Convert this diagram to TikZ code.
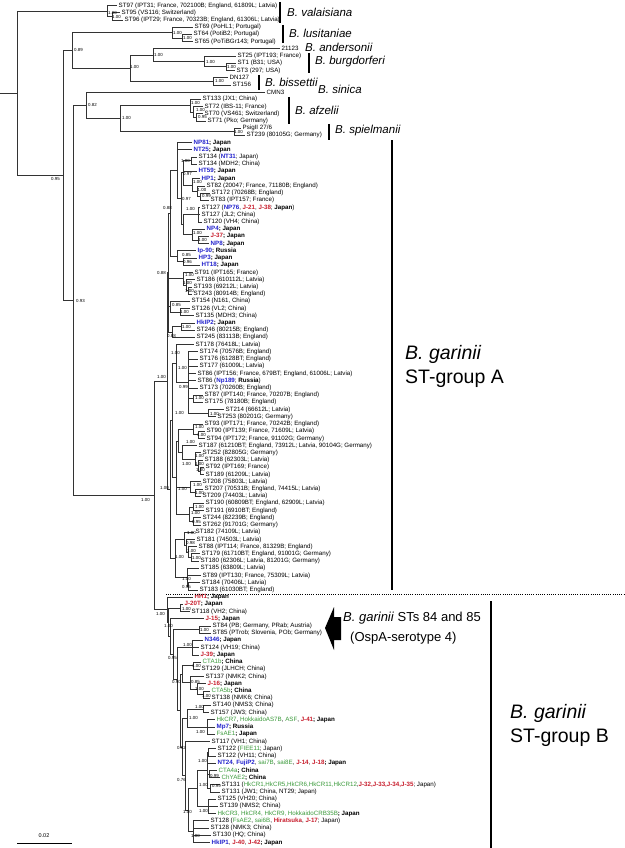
\documentclass[tikz,border=0pt]{standalone}
\usepackage{fontspec}
\setmainfont{Liberation Sans}
\definecolor{cblue}{RGB}{35,35,205}
\definecolor{cred}{RGB}{200,30,45}
\definecolor{cgreen}{RGB}{60,155,60}
\newcommand\bl[1]{\textcolor{cblue}{\textbf{#1}}}
\newcommand\rd[1]{\textcolor{cred}{\textbf{#1}}}
\newcommand\gr[1]{\textcolor{cgreen}{\textmd{#1}}}
\newcommand\lf[3]{\pgfmathsetmacro\myyv{5.5+7.215*#1}\node[leaf] (L#1) at (#2,\myyv) {#3};}
\newcommand\nd[3]{\pgfmathsetmacro\myyv{5.5+7.215*#3}\coordinate (#1) at (#2,\myyv);}
\newcommand\eg[2]{\draw[br] (#1) |- (#2);}
\newcommand\sv[4]{\pgfmathsetmacro\myyv{5.5+7.215*#3}\node[sup] (#1) at (#2,\myyv) {#4};}
\begin{document}
\begin{tikzpicture}[x=1pt,y=-1pt,
  leaf/.style={anchor=west,inner xsep=1.5pt,inner ysep=0pt,font=\fontsize{6.2}{7}\selectfont},
  sup/.style={anchor=west,inner sep=0pt,font=\fontsize{4.4}{4.8}\selectfont},
  br/.style={draw=black!80,line width=0.7pt},
  bar/.style={draw=black,line width=1.1pt},
  spn/.style={anchor=west,inner sep=0pt,font=\fontsize{11.5}{13}\selectfont\itshape},
  grp/.style={anchor=west,inner sep=0pt,font=\fontsize{19.5}{23}\selectfont},
  ann/.style={anchor=west,inner sep=0pt,font=\fontsize{13}{15}\selectfont}]
\useasboundingbox (0,0) rectangle (624,848);
\fill[white] (0,0) rectangle (624,848);
% ---------------- leaves: outgroups
\lf{0}{117}{ST97 (IPT31; France, 702100B; England, 61809L; Latvia)}
\lf{1}{120}{ST95 (VS116; Switzerland)}
\lf{2}{123}{ST96 (IPT29; France, 70323B; England, 61306L; Latvia)}
\lf{3}{193}{ST69 (PoHL1; Portugal)}
\lf{4}{192}{ST64 (PotiB2; Portugal)}
\lf{5}{193}{ST65 (PoTiBGr143; Portugal)}
\lf{6}{280}{21123}
\lf{7}{236}{ST25 (IPT193; France)}
\lf{8}{236}{ST1 (B31; USA)}
\lf{9}{235}{ST3 (297; USA)}
\lf{10}{228}{DN127}
\lf{11}{231}{ST156}
\lf{12}{265}{CMN3}
\lf{13}{201}{ST133 (JX1; China)}
\lf{14}{203}{ST72 (IBS-11; France)}
\lf{15}{203}{ST70 (VS461; Switzerland)}
\lf{16}{206}{ST71 (Pko; Germany)}
\lf{17}{241}{PsigII 27/6}
\lf{18}{245}{ST239 (80105G; Germany)}
% ---------------- leaves: group A
\lf{19}{192}{\bl{NP81}\textbf{; Japan}}
\lf{20}{192}{\bl{NT25}\textbf{; Japan}}
\lf{21}{197}{ST134 (\bl{NT31}; Japan)}
\lf{22}{197}{ST134 (MDH2; China)}
\lf{23}{197}{\bl{HT59}\textbf{; Japan}}
\lf{24}{200}{\bl{HP1}\textbf{; Japan}}
\lf{25}{205}{ST82 (20047; France, 71180B; England)}
\lf{26}{210}{ST172 (70268B; England)}
\lf{27}{209}{ST83 (IPT157; France)}
\lf{28}{200}{ST127 (\bl{NP76}, \rd{J-21}, \rd{J-38}; \textbf{Japan})}
\lf{29}{200}{ST127 (JL2; China)}
\lf{30}{202}{ST120 (VH4; China)}
\lf{31}{205}{\bl{NP4}\textbf{; Japan}}
\lf{32}{209}{\rd{J-37}\textbf{; Japan}}
\lf{33}{209}{\bl{NP8}\textbf{; Japan}}
\lf{34}{196}{\bl{Ip-90}\textbf{; Russia}}
\lf{35}{197}{\bl{HP3}\textbf{; Japan}}
\lf{36}{200}{\bl{HT18}\textbf{; Japan}}
\lf{37}{193}{ST91 (IPT165; France)}
\lf{38}{195}{ST186 (610112L; Latvia)}
\lf{39}{192}{ST193 (69212L; Latvia)}
\lf{40}{192}{ST243 (80914B; England)}
\lf{41}{190}{ST154 (N161, China)}
\lf{42}{190}{ST126 (VL2; China)}
\lf{43}{194}{ST135 (MDH3; China)}
\lf{44}{195}{\bl{HkIP2}\textbf{; Japan}}
\lf{45}{195}{ST246 (80215B; England)}
\lf{46}{195}{ST245 (83113B; England)}
\lf{47}{194}{ST178 (76418L; Latvia)}
\lf{48}{198}{ST174 (70576B; England)}
\lf{49}{198}{ST176 (6128BT; England)}
\lf{50}{198}{ST177 (61009L; Latvia)}
\lf{51}{196}{ST86 (IPT156; France, 679BT; England, 61006L; Latvia)}
\lf{52}{196}{ST86 (\bl{Np189}; \textbf{Russia})}
\lf{53}{198}{ST173 (70260B; England)}
\lf{54}{203}{ST87 (IPT140; France, 70207B; England)}
\lf{55}{203}{ST175 (78180B; England)}
\lf{56}{224}{ST214 (66612L; Latvia)}
\lf{57}{216}{ST253 (80201G; Germany)}
\lf{58}{203}{ST93 (IPT171; France, 70242B; England)}
\lf{59}{205}{ST90 (IPT139; France, 71609L; Latvia)}
\lf{60}{205}{ST94 (IPT172; France, 91102G; Germany)}
\lf{61}{197}{ST187 (61210BT; England, 73912L; Latvia, 90104G; Germany)}
\lf{62}{201}{ST252 (82805G; Germany)}
\lf{63}{203}{ST188 (62303L; Latvia)}
\lf{64}{204}{ST92 (IPT169; France)}
\lf{65}{204}{ST189 (61209L; Latvia)}
\lf{66}{201}{ST208 (75803L; Latvia)}
\lf{67}{203}{ST207 (70531B; England, 74415L; Latvia)}
\lf{68}{201}{ST209 (74403L; Latvia)}
\lf{69}{204}{ST190 (60809BT; England, 62909L; Latvia)}
\lf{70}{204}{ST191 (6910BT; England)}
\lf{71}{201}{ST244 (82239B; England)}
\lf{72}{201}{ST262 (91701G; Germany)}
\lf{73}{194}{ST182 (74109L; Latvia)}
\lf{74}{195}{ST181 (74503L; Latvia)}
\lf{75}{197}{ST88 (IPT114; France, 81329B; England)}
\lf{76}{200}{ST179 (61710BT; England, 91001G; Germany)}
\lf{77}{199}{ST180 (62306L; Latvia, 81201G; Germany)}
\lf{78}{199}{ST185 (63809L; Latvia)}
\lf{79}{201}{ST89 (IPT130; France, 75309L; Latvia)}
\lf{80}{200}{ST184 (70406L; Latvia)}
\lf{81}{198}{ST183 (61030BT; England)}
% ---------------- leaves: group B
\lf{82}{193}{\rd{HH1}\textbf{; Japan}}
\lf{83}{183}{\rd{J-20T}\textbf{; Japan}}
\lf{84}{190}{ST118 (VH2; China)}
\lf{85}{204}{\rd{J-15}\textbf{; Japan}}
\lf{86}{211}{ST84 (PB; Germany, PRab; Austria)}
\lf{87}{211}{ST85 (PTrob; Slovenia, POb; Germany)}
\lf{88}{203}{\bl{N346}\textbf{; Japan}}
\lf{89}{199}{ST124 (VH19; China)}
\lf{90}{199}{\rd{J-39}\textbf{; Japan}}
\lf{91}{201}{\gr{CTA1b}\textbf{; China}}
\lf{92}{200}{ST129 (JLHCH; China)}
\lf{93}{204}{ST137 (NMK2; China)}
\lf{94}{206}{\rd{J-16}\textbf{; Japan}}
\lf{95}{210}{\gr{CTA5b}\textbf{; China}}
\lf{96}{210}{ST138 (NMK6; China)}
\lf{97}{211}{ST140 (NMS3; China)}
\lf{98}{209}{ST157 (JW3; China)}
\lf{99}{215}{\gr{HkCR7}, \gr{HokkaidoAS7B}, \gr{ASF}, \rd{J-41}\textbf{; Japan}}
\lf{100}{215}{\bl{Mp7}\textbf{; Russia}}
\lf{101}{215}{\gr{FsAE1}\textbf{; Japan}}
\lf{102}{210}{ST117 (VH1; China)}
\lf{103}{216}{ST122 (\gr{FIEE11}; Japan)}
\lf{104}{216}{ST122 (VH11; China)}
\lf{105}{216}{\bl{NT24}, \bl{FujiP2}, \gr{sai7B}, \gr{sai8E}, \rd{J-14}, \rd{J-18}\textbf{; Japan}}
\lf{106}{217}{\gr{CTA4a}\textbf{; China}}
\lf{107}{220}{\gr{ChYAE2}\textbf{; China}}
\lf{108}{220}{ST131 (\gr{HkCR1,HkCR5,HkCR6,HkCR11,HkCR12},\rd{J-32,J-33,J-34,J-35}; Japan)}
\lf{109}{220}{ST131 (JW1; China, NT29; Japan)}
\lf{110}{216}{ST125 (VH20; China)}
\lf{111}{218}{ST139 (NMS2; China)}
\lf{112}{216}{\gr{HkCR3, HkCR4, HkCR9, HokkaidoCRB35B}\textbf{; Japan}}
\lf{113}{209}{ST128 (\gr{FsAE2}, \gr{sai6B}, \rd{Hiratsuka}, \rd{J-17}; Japan)}
\lf{114}{209}{ST128 (NMK3; China)}
\lf{115}{211}{ST130 (HQ; China)}
\lf{116}{210}{\bl{HkIP1}, \rd{J-40}, \rd{J-42}\textbf{; Japan}}
% ---------------- internal nodes: top
\nd{R0}{0}{12.147}
\nd{R}{17}{12.147}
\nd{V0}{107}{0.75}
\nd{V1}{112}{1.5}
\nd{N95}{63}{23.544}
\nd{N89}{72}{6.219}
\nd{Lu0}{172}{3.75}
\nd{Lu1}{182}{4.5}
\nd{NA}{130}{8.6875}
\nd{And0}{153}{6.875}
\nd{Bu0}{204}{7.75}
\nd{Bu1}{226}{8.5}
\nd{Bis0}{213}{10.5}
\nd{N93}{73}{40.869}
\nd{N82}{86}{13.844}
\nd{Af0}{120}{15.6875}
\nd{Af1}{190}{13.875}
\nd{Af2}{193}{14.75}
\nd{Af3}{196}{15.5}
\nd{Sp0}{234}{17.5}
\nd{G0}{154}{67.894}
% group A
\nd{GA}{167}{52.047}
\nd{Atop}{168}{37.035}
\nd{At1}{170}{28.820}
\nd{P1}{177}{22.891}
\nd{Q6}{181}{26.781}
\nd{Q2}{183}{23.1875}
\nd{Q1}{191}{21.5}
\nd{Q3}{192}{24.875}
\nd{Q4}{197}{25.75}
\nd{Q5}{200}{26.5}
\nd{Q8}{183}{30.375}
\nd{Q7}{198}{29}
\nd{Q9}{192}{31.75}
\nd{Q10}{198}{32.5}
\nd{Q11}{177}{34.75}
\nd{Q12}{183}{35.5}
\nd{R1}{183}{37.875}
\nd{R2}{186}{38.75}
\nd{R3}{188}{39.5}
\nd{R4}{170}{41.75}
\nd{R5}{180}{42.5}
\nd{H0}{172}{45.25}
\nd{H1}{181}{44.5}
\nd{Abot}{170}{67.059}
\nd{X1}{172}{57.523}
\nd{H2}{176}{49.625}
\nd{H3}{188}{52.25}
\nd{H4}{193}{54.5}
\nd{H5}{208}{56.5}
\nd{B10}{176}{65.422}
\nd{B2}{178}{60.344}
\nd{B1a}{193}{58.75}
\nd{B1b}{198}{59.5}
\nd{B7}{182}{61.9375}
\nd{B4}{195}{62.875}
\nd{B5}{198}{63.75}
\nd{B6}{200}{64.5}
\nd{B8}{190}{66.75}
\nd{B9}{195}{67.5}
\nd{B11}{189}{70.5}
\nd{B12}{193}{69.5}
\nd{B13}{193}{71.5}
\nd{X2}{175}{76.594}
\nd{C1}{184}{73.9375}
\nd{C2}{186}{74.875}
\nd{C3}{188}{75.75}
\nd{C4}{191}{76.5}
\nd{C5}{187}{79.25}
\nd{C6}{188}{80.5}
% group B
\nd{GB}{167}{83.741}
\nd{GB0}{168}{85.483}
\nd{K1}{180}{83.5}
\nd{GB1}{170}{87.465}
\nd{GB2}{173}{89.930}
\nd{K2}{199}{86.5}
\nd{GB3}{177}{93.359}
\nd{K3}{192}{89}
\nd{GB4}{180}{97.719}
\nd{K11}{182}{92.6875}
\nd{K4}{193}{91.5}
\nd{K10}{190}{93.875}
\nd{K9}{197}{94.75}
\nd{K8}{203}{95.5}
\nd{M12}{182}{102.75}
\nd{K6}{187}{98.75}
\nd{K5}{203}{97.5}
\nd{K7}{207}{100}
\nd{M11}{185}{106.75}
\nd{M10}{188}{111.5}
\nd{M9}{197}{108.5}
\nd{M8}{207}{106}
\nd{M3}{208}{103.5}
\nd{M4}{209}{106.5}
\nd{M5}{210}{108.5}
\nd{M7}{208}{111}
\nd{M1}{193}{114.5}
% ---------------- branches: top
\draw[br] (R0) -- (R);
\eg{R}{V0} \eg{R}{N95}
\eg{V0}{L0.west} \eg{V0}{V1} \eg{V1}{L1.west} \eg{V1}{L2.west}
\eg{N95}{N89} \eg{N95}{N93}
\eg{N89}{Lu0} \eg{N89}{NA}
\eg{Lu0}{L3.west} \eg{Lu0}{Lu1} \eg{Lu1}{L4.west} \eg{Lu1}{L5.west}
\eg{NA}{And0} \eg{NA}{Bis0}
\eg{And0}{L6.west} \eg{And0}{Bu0}
\eg{Bu0}{L7.west} \eg{Bu0}{Bu1} \eg{Bu1}{L8.west} \eg{Bu1}{L9.west}
\eg{Bis0}{L10.west} \eg{Bis0}{L11.west}
\eg{N93}{N82} \eg{N93}{G0}
\eg{N82}{L12.west} \eg{N82}{Af0}
\eg{Af0}{Af1} \eg{Af0}{Sp0}
\eg{Af1}{L13.west} \eg{Af1}{Af2} \eg{Af2}{L14.west} \eg{Af2}{Af3}
\eg{Af3}{L15.west} \eg{Af3}{L16.west}
\eg{Sp0}{L17.west} \eg{Sp0}{L18.west}
\eg{G0}{GA} \eg{G0}{GB}
% group A
\eg{GA}{Atop} \eg{GA}{Abot}
\eg{Atop}{At1} \eg{Atop}{R1} \eg{Atop}{R4} \eg{Atop}{H0}
\eg{At1}{P1} \eg{At1}{Q11}
\eg{P1}{L19.west} \eg{P1}{L20.west} \eg{P1}{Q6}
\eg{Q6}{Q2} \eg{Q6}{Q8}
\eg{Q2}{Q1} \eg{Q2}{L23.west} \eg{Q2}{Q3}
\eg{Q1}{L21.west} \eg{Q1}{L22.west}
\eg{Q3}{L24.west} \eg{Q3}{Q4}
\eg{Q4}{L25.west} \eg{Q4}{Q5}
\eg{Q5}{L26.west} \eg{Q5}{L27.west}
\eg{Q8}{Q7} \eg{Q8}{Q9}
\eg{Q7}{L28.west} \eg{Q7}{L29.west} \eg{Q7}{L30.west}
\eg{Q9}{L31.west} \eg{Q9}{Q10}
\eg{Q10}{L32.west} \eg{Q10}{L33.west}
\eg{Q11}{L34.west} \eg{Q11}{Q12}
\eg{Q12}{L35.west} \eg{Q12}{L36.west}
\eg{R1}{L37.west} \eg{R1}{R2}
\eg{R2}{L38.west} \eg{R2}{R3}
\eg{R3}{L39.west} \eg{R3}{L40.west}
\eg{R4}{L41.west} \eg{R4}{R5}
\eg{R5}{L42.west} \eg{R5}{L43.west}
\eg{H0}{H1} \eg{H0}{L46.west}
\eg{H1}{L44.west} \eg{H1}{L45.west}
\eg{Abot}{X1} \eg{Abot}{X2}
\eg{X1}{H2} \eg{X1}{B10}
\eg{H2}{L47.west} \eg{H2}{H3}
\eg{H3}{L48.west} \eg{H3}{L49.west} \eg{H3}{L50.west} \eg{H3}{L51.west}
\eg{H3}{L52.west} \eg{H3}{L53.west} \eg{H3}{H4} \eg{H3}{H5}
\eg{H4}{L54.west} \eg{H4}{L55.west}
\eg{H5}{L56.west} \eg{H5}{L57.west}
\eg{B10}{B2} \eg{B10}{B8} \eg{B10}{B11}
\eg{B2}{B1a} \eg{B2}{B7}
\eg{B1a}{L58.west} \eg{B1a}{B1b}
\eg{B1b}{L59.west} \eg{B1b}{L60.west}
\eg{B7}{L61.west} \eg{B7}{B4}
\eg{B4}{L62.west} \eg{B4}{B5}
\eg{B5}{L63.west} \eg{B5}{B6}
\eg{B6}{L64.west} \eg{B6}{L65.west}
\eg{B8}{L66.west} \eg{B8}{B9}
\eg{B9}{L67.west} \eg{B9}{L68.west}
\eg{B11}{B12} \eg{B11}{B13}
\eg{B12}{L69.west} \eg{B12}{L70.west}
\eg{B13}{L71.west} \eg{B13}{L72.west}
\eg{X2}{C1} \eg{X2}{C5}
\eg{C1}{L73.west} \eg{C1}{C2}
\eg{C2}{L74.west} \eg{C2}{C3}
\eg{C3}{L75.west} \eg{C3}{C4}
\eg{C4}{L76.west} \eg{C4}{L77.west}
\eg{C5}{L78.west} \eg{C5}{L79.west} \eg{C5}{C6}
\eg{C6}{L80.west} \eg{C6}{L81.west}
% group B
\eg{GB}{L82.west} \eg{GB}{GB0}
\eg{GB0}{K1} \eg{GB0}{GB1}
\eg{K1}{L83.west} \eg{K1}{L84.west}
\eg{GB1}{L85.west} \eg{GB1}{GB2}
\eg{GB2}{K2} \eg{GB2}{GB3}
\eg{K2}{L86.west} \eg{K2}{L87.west}
\eg{GB3}{K3} \eg{GB3}{GB4}
\eg{K3}{L88.west} \eg{K3}{L89.west} \eg{K3}{L90.west}
\eg{GB4}{K11} \eg{GB4}{M12}
\eg{K11}{K4} \eg{K11}{K10}
\eg{K4}{L91.west} \eg{K4}{L92.west}
\eg{K10}{L93.west} \eg{K10}{K9}
\eg{K9}{L94.west} \eg{K9}{K8}
\eg{K8}{L95.west} \eg{K8}{L96.west}
\eg{M12}{K6} \eg{M12}{M11}
\eg{K6}{K5} \eg{K6}{K7}
\eg{K5}{L97.west} \eg{K5}{L98.west}
\eg{K7}{L99.west} \eg{K7}{L100.west} \eg{K7}{L101.west}
\eg{M11}{L102.west} \eg{M11}{M10}
\eg{M10}{M9} \eg{M10}{M1}
\eg{M9}{M8} \eg{M9}{M7}
\eg{M8}{M3} \eg{M8}{L105.west} \eg{M8}{M4} \eg{M8}{M5}
\eg{M3}{L103.west} \eg{M3}{L104.west}
\eg{M4}{L106.west} \eg{M4}{L107.west}
\eg{M5}{L108.west} \eg{M5}{L109.west}
\eg{M7}{L110.west} \eg{M7}{L111.west} \eg{M7}{L112.west}
\eg{M1}{L113.west} \eg{M1}{L114.west} \eg{M1}{L115.west} \eg{M1}{L116.west}
% ---------------- support values
\sv{s1}{108}{1.04}{1.00}
\sv{s2}{112}{1.65}{1.00}
\sv{s3}{173}{3.8}{1.00}
\sv{s4}{183}{4.5}{1.00}
\sv{s5}{74}{6.2}{0.89}
\sv{s6}{154}{6.86}{1.00}
\sv{s7}{130}{8.55}{1.00}
\sv{s8}{206}{7.8}{1.00}
\sv{s9}{227}{8.55}{1.00}
\sv{s10}{215}{10.4}{1.00}
\sv{s11}{88}{13.8}{0.82}
\sv{s12}{122}{15.6}{1.00}
\sv{s13}{191}{13.5}{1.00}
\sv{s14}{196}{14.5}{1.00}
\sv{s15}{198}{15.45}{0.95}
\sv{s16}{234}{17.6}{1.00}
\sv{s17}{51}{24.05}{0.95}
\sv{s18}{76}{40.9}{0.93}
\sv{s19}{141}{68.6}{1.00}
\sv{s20}{157}{51.5}{1.00}
\sv{s21}{163}{28.1}{0.88}
\sv{s22}{157}{37.1}{0.88}
\sv{s23}{167}{45.8}{0.88}
\sv{s24}{181}{21.5}{1.00}
\sv{s25}{183}{23.35}{0.97}
\sv{s26}{193}{24.5}{1.00}
\sv{s27}{197.5}{25.6}{1.00}
\sv{s28}{202}{26.4}{0.99}
\sv{s29}{182}{26.8}{0.97}
\sv{s30}{186}{28.2}{1.00}
\sv{s31}{193}{31.5}{1.00}
\sv{s32}{198}{32.5}{1.00}
\sv{s33}{182}{34.6}{0.85}
\sv{s34}{183}{35.55}{0.96}
\sv{s35}{185}{37.35}{1.00}
\sv{s36}{183}{38.5}{1.00}
\sv{s37}{185}{39.6}{1.00}
\sv{s38}{172}{41.5}{0.85}
\sv{s39}{180}{42.5}{1.00}
\sv{s40}{182}{44.6}{1.00}
\sv{s41}{171}{48.2}{1.00}
\sv{s42}{178}{50.24}{1.00}
\sv{s43}{179}{52.9}{0.99}
\sv{s44}{195}{54.4}{1.00}
\sv{s45}{210}{56.6}{1.00}
\sv{s46}{175}{56.5}{1.00}
\sv{s47}{195}{58.4}{1.00}
\sv{s48}{197}{59.5}{1.00}
\sv{s49}{186}{60.5}{1.00}
\sv{s50}{195}{62.4}{1.00}
\sv{s51}{182}{63.55}{1.00}
\sv{s52}{195}{63.5}{1.00}
\sv{s53}{196}{64.4}{1.00}
\sv{s54}{160}{66.9}{1.00}
\sv{s55}{193}{66.5}{1.00}
\sv{s56}{178}{67.0}{1.00}
\sv{s57}{195}{67.6}{1.00}
\sv{s58}{195}{69.5}{1.00}
\sv{s59}{191}{70.35}{1.00}
\sv{s60}{192}{71.6}{0.95}
\sv{s61}{187}{73.1}{1.00}
\sv{s62}{186}{74.5}{0.98}
\sv{s63}{187}{75.6}{1.00}
\sv{s64}{192}{76.6}{1.00}
\sv{s65}{175}{76.5}{1.00}
\sv{s66}{182}{79.5}{1.00}
\sv{s67}{182}{80.6}{0.95}
\sv{s68}{156}{84.3}{1.00}
\sv{s69}{182}{83.65}{1.00}
\sv{s70}{164}{86.0}{1.00}
\sv{s71}{200}{86.6}{1.00}
\sv{s72}{183}{88.6}{1.00}
\sv{s73}{168}{90.4}{0.95}
\sv{s74}{192}{91.5}{1.00}
\sv{s75}{172}{93.8}{0.90}
\sv{s76}{191}{93.8}{0.85}
\sv{s77}{195}{94.7}{1.00}
\sv{s78}{202}{95.7}{1.00}
\sv{s79}{195}{97.2}{1.00}
\sv{s80}{189}{98.8}{1.00}
\sv{s81}{196}{100.7}{1.00}
\sv{s82}{177}{102.9}{0.92}
\sv{s83}{198}{104.7}{1.00}
\sv{s84}{210}{106.8}{0.99}
\sv{s85}{177}{107.3}{0.76}
\sv{s86}{199}{108.0}{1.00}
\sv{s87}{212}{108.2}{0.99}
\sv{s88}{199}{111.6}{1.00}
\sv{s89}{183}{111.8}{1.00}
\sv{s90}{191}{115.1}{1.00}
% ---------------- species labels and bars
\coordinate (bv1) at (280,2); \coordinate (bv2) at (280,23);
\draw[bar] (bv1) -- (bv2);
\node[spn] (tval) at (287,12.5) {B. valaisiana};
\coordinate (bl1) at (283,25); \coordinate (bl2) at (283,43);
\draw[bar] (bl1) -- (bl2);
\node[spn] (tlus) at (289,33.5) {B. lusitaniae};
\node[spn] (tand) at (305,47) {B. andersonii};
\coordinate (bb1) at (309,53); \coordinate (bb2) at (309,73);
\draw[bar] (bb1) -- (bb2);
\node[spn] (tbur) at (315,62) {B. burgdorferi};
\coordinate (bs1) at (259,75); \coordinate (bs2) at (259,90);
\draw[bar] (bs1) -- (bs2);
\node[spn] (tbis) at (265,82) {B. bissettii};
\node[spn] (tsin) at (318,89) {B. sinica};
\coordinate (ba1) at (289,97); \coordinate (ba2) at (289,124);
\draw[bar] (ba1) -- (ba2);
\node[spn] (tafz) at (295,110) {B. afzelii};
\coordinate (bp1) at (329,124); \coordinate (bp2) at (329,140);
\draw[bar] (bp1) -- (bp2);
\node[spn] (tspi) at (335,131) {B. spielmanii};
% group A
\coordinate (gA1) at (392,140); \coordinate (gA2) at (392,590);
\draw[bar] (gA1) -- (gA2);
\node[grp] (tgA1) at (405,354) {\textit{B. garinii}};
\node[grp] (tgA2) at (405,379) {ST-group A};
% separator
\coordinate (ds1) at (166,594); \coordinate (ds2) at (624,594);
\draw[line width=1pt,dash pattern=on 1pt off 1.2pt] (ds1) -- (ds2);
% group B
\coordinate (gB1) at (491,601); \coordinate (gB2) at (491,848);
\draw[bar] (gB1) -- (gB2);
\node[grp] (tgB1) at (510,713) {\textit{B. garinii}};
\node[grp] (tgB2) at (510,738) {ST-group B};
% arrow annotation
\coordinate (ar1) at (325,628); \coordinate (ar2) at (334,607); \coordinate (ar3) at (334,617);
\coordinate (ar4) at (341,617); \coordinate (ar5) at (341,640); \coordinate (ar6) at (334,640);
\coordinate (ar7) at (334,650);
\fill[black] (ar1) -- (ar2) -- (ar3) -- (ar4) -- (ar5) -- (ar6) -- (ar7) -- cycle;
\node[ann] (t84a) at (343,618) {\textit{B. garinii} STs 84 and 85};
\node[ann] (t84b) at (350,638) {(OspA-serotype 4)};
% scale bar
\coordinate (sc1) at (17,843); \coordinate (sc2) at (72,843);
\draw[line width=0.8pt] (sc1) -- (sc2);
\node[sup,anchor=center,font=\fontsize{5.5}{6}\selectfont] (sct) at (44,836) {0.02};
\end{tikzpicture}
\end{document}
